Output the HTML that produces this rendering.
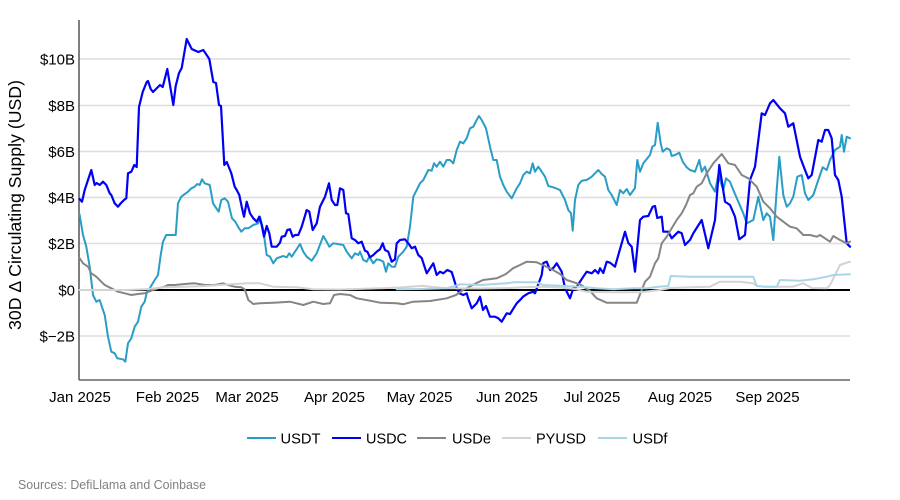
<!DOCTYPE html>
<html>
<head>
<meta charset="utf-8">
<style>
  html,body{margin:0;padding:0;background:#fff;}
  svg{display:block;}
  text{font-family:"Liberation Sans", Arial, sans-serif;}
</style>
</head>
<body>
<svg width="900" height="500" viewBox="0 0 900 500" xmlns="http://www.w3.org/2000/svg">
  <rect width="900" height="500" fill="#fff"/>
  <!-- gridlines -->
  <g stroke="#dedede" stroke-width="1.5">
    <line x1="79" y1="59" x2="850" y2="59"/>
    <line x1="79" y1="105.5" x2="850" y2="105.5"/>
    <line x1="79" y1="151.5" x2="850" y2="151.5"/>
    <line x1="79" y1="197.5" x2="850" y2="197.5"/>
    <line x1="79" y1="243.5" x2="850" y2="243.5"/>
    <line x1="79" y1="336" x2="850" y2="336"/>
  </g>
  <!-- zero line -->
  <line x1="79" y1="290" x2="850" y2="290" stroke="#000" stroke-width="2"/>
  <!-- axes -->
  <line x1="79" y1="20" x2="79" y2="380" stroke="#555" stroke-width="1.5"/>
  <line x1="79" y1="380" x2="850" y2="380" stroke="#666" stroke-width="1.5"/>

  <!-- y tick labels -->
  <g font-size="15" fill="#000" text-anchor="end">
    <text x="75" y="64.5">$10B</text>
    <text x="75" y="111">$8B</text>
    <text x="75" y="157">$6B</text>
    <text x="75" y="203">$4B</text>
    <text x="75" y="249">$2B</text>
    <text x="75" y="295.5">$0</text>
    <text x="75" y="341.5">$−2B</text>
  </g>
  <!-- y axis title -->
  <text transform="translate(21,205) rotate(-90)" text-anchor="middle" font-size="17.5" textLength="250" lengthAdjust="spacingAndGlyphs" fill="#000">30D Δ Circulating Supply (USD)</text>

  <!-- x tick labels -->
  <g font-size="15" fill="#000" text-anchor="middle">
    <text x="80" y="402">Jan 2025</text>
    <text x="167.5" y="402">Feb 2025</text>
    <text x="247" y="402">Mar 2025</text>
    <text x="334.5" y="402">Apr 2025</text>
    <text x="419.5" y="402">May 2025</text>
    <text x="507" y="402">Jun 2025</text>
    <text x="592" y="402">Jul 2025</text>
    <text x="680" y="402">Aug 2025</text>
    <text x="767.5" y="402">Sep 2025</text>
  </g>

  <!-- series -->
  <g fill="none" stroke-linejoin="round" stroke-linecap="round">
    <!-- USDT -->
    <polyline stroke="#2a9dc6" stroke-width="2" points="79.5,214 83,235 86.3,246.7 89.7,266.7 93,295 96.3,301.7 99.7,300 101.3,305 104.7,315 108,336.7 111.3,351.7 114.7,353.3 117.3,358.3 123,359.3 125.3,361.7 128,343.3 131.3,338.3 134.7,326.7 138,321.7 141.3,306.7 144.7,301.7 147,291.7 149.7,288.3 154.7,280 158,275 160.7,255 163,241.7 166.3,235 171.3,235 175.7,235 178,203.3 181.3,196.7 188,191.7 191.3,188.3 194.7,186.7 197.3,184 199.7,185 202,179.3 204.7,183.3 209.7,185 211.3,193.3 213,203.3 216.3,208.3 218.7,211.7 221.3,200 224.7,198.3 228,201.7 232,218.3 235.3,221.7 238,226.7 241.3,231.7 244.7,228.3 248.3,228.3 253.3,225 258.3,223.3 260,216.7 263.3,230 266.7,255 270,256.7 273.3,263.3 276.7,258.3 283.3,256 286.7,257.3 289.3,253.3 291.7,256.7 295,251.7 300,244 303.3,251.7 306.7,256.7 311.7,260.7 316.7,253.3 323.3,236 326.7,241.7 329.3,246.7 333.3,243.3 343.3,245 346.7,251.7 351.7,258.3 355,253.3 358.3,255 360,251.7 363.3,260 366.7,261.7 369.3,256.7 373.3,263.3 376.7,259.3 380,260 383.3,261.7 386,271.7 388.3,263.3 391.7,266.7 395,266.7 398.3,256.7 403.3,251.7 406.7,246.7 410,226.7 413.3,196.7 416.7,190 420,183.3 423.3,180 428.3,170 431.7,170.7 434,163.3 436.7,166.7 440,161.7 443.3,166.7 446.7,160 450,160 453.3,163.3 456.7,150 460,141.7 463.3,143.3 466.7,138.3 470,128.3 473.3,126.7 476.7,120 479,116 481.7,120 486,128.3 490,146.7 493.3,160 496.7,160 500,176.7 503.3,185 506.7,191.7 511.7,198.3 516.7,188.3 520,183.3 523.3,175 526.7,171.7 530,173.3 532.7,163.3 535,171.7 538.3,166.7 541.7,171.7 545,176.7 548.3,186 553.3,187.3 560,190 565,200 568.3,210 571,213.3 572.7,230.7 575,200 578.3,185 581.7,180.7 586.7,180 591.7,176.7 595,173.3 598.3,170 601.7,174 605,176.7 608.3,190 611.7,195 616.7,205 620,190 623.3,193.3 626.7,189 630,195 635,188 637.3,160 640,171.7 643.3,163.3 650,155 652.3,146.7 655,145 657.7,122.7 660.7,143.3 662.7,151.7 666.7,148.3 670,150 671.7,156 675,155 679.3,152.7 682.7,161.7 686.7,167.3 690,170 695,171.7 699.3,160 701.7,171.7 705,166.7 710,183.3 715,191.7 718.3,175 723.3,190 726,178.3 730,181.7 733.3,190 738.3,201.7 743.3,213.3 746.7,223.3 753.3,220 758.3,196.7 763.3,220 766.7,213.3 770,216.7 773.3,240 776.7,190 779.3,156.7 783.3,195 786.7,206.7 790,203.3 793.3,196.7 797.3,176.7 801.7,175 805,193.3 808.3,200 813.3,195 818.3,180 822.7,167.3 826.7,170 830,160 835,150 840,146.7 841.7,135 844,151.7 846.7,136.7 850,138.3"/>
    <!-- USDC -->
    <polyline stroke="#0000f5" stroke-width="2.2" points="79.5,199 82,201.7 84.7,190 88,180 91.3,170 94.7,185 96.7,183 99.7,185 103,181.7 106.3,185 109.7,193.3 111.3,195 114.7,203.3 118,206.7 120.7,203.3 124,200 126.3,198.3 128,173.3 131.3,171.7 134.3,165 136.7,167 139,107 142.7,92 146.7,82 148,81 150.7,89 153,92 160,85 162.7,87 167.3,69 173.3,105 175.7,86 179,73 181.7,68 186.7,39 191.7,49 198.3,52 203.3,50 209.3,59 213.3,82 216,83 219,105 221,106 224.3,165 226.7,162 230,170 231.3,173.3 234.7,186.7 236.7,190 239.3,195 241.7,206.7 244,216.7 246.7,201.7 250,213.3 253.3,218.3 256.7,221.7 259.3,216.7 261.7,225 264,236.7 266.7,226 269.3,233.3 271.7,246.7 276.7,246.7 280,242.7 281.7,236.7 285,236 287.3,230 290,229.3 292.7,236.7 295,235 298.3,235 301.7,226.7 306.7,210 309.3,211.7 312.7,230 316.7,223.3 320,206.7 325,196.7 329,183.3 331.7,200 335,205 337.3,205 340,188.3 343.3,190 346,213.3 348.3,214 351.7,238.3 355,240 358.3,243.3 361.7,241.7 365,250.7 367.3,251.7 370,257.3 373.3,255 376.7,251.7 380,249.3 382.7,243.3 385,250 388.3,251.7 391.7,261.7 395,259.3 396.7,243.3 400,240 405,239.3 408.3,243.3 411.7,248.3 415,246.7 418.3,255 421.7,258 426.7,273.3 430,268.3 433.3,263.3 436.7,275 440,271.7 443.3,273.3 447.3,270 451.7,272 456.7,288.3 459.3,293.3 463.3,295 466.7,293.3 468,298 471.7,308.3 476.7,303.3 480,296.7 483,310 486,306 490,316.7 495,316.7 498.3,318.3 501.7,321.7 506.7,313.3 510,314 516.7,303.3 521.7,298.3 523,296.7 528.3,293.3 533.3,291.7 535,293.3 538,285 541.7,275 543.3,263 546.7,261.7 550,270 553.3,268 556.7,263.3 561.7,271.7 565,288.3 570,298.3 573.3,288.3 576.7,286.7 580,281.7 583.3,276.7 586.7,271.7 591.7,273.3 595,270 598.3,273.3 600,268.3 603.3,273 606.7,261.7 610,262.7 615,266.7 625,231.7 628.3,243 631.7,246.7 635,271.7 640,220 643.3,216.7 648.3,216 652.7,206.7 655,206 657.3,218 661.7,216.7 663.3,231.7 668.3,231.7 671.7,238.3 678.3,231.7 681.7,233.3 685,245 690,240 693.3,233.3 701.7,220 708.3,248.3 715,220 719.3,165 725,201.7 730,205 735,216.7 739.3,239.3 745,235 750,180 755,166.7 761.7,113.3 765,115 770,103.3 773.3,100 780,108.3 785,113.3 788.3,126.7 793.3,123.3 800,156.7 805,170 808.3,178.3 811.7,175 818.3,140 821.7,141.7 825,130 828.3,130 831.7,138.3 835,175 838.3,180 841.7,196.7 846.7,243.3 850,246.7"/>
    <!-- USDe -->
    <polyline stroke="#858585" stroke-width="2" points="79.5,258 83,263.3 88,266.7 91.3,273.3 96.3,276.7 101.3,281.7 104.7,285 111.3,288.3 118,291.7 124.7,293.3 131.3,295 138,294 144.7,293.3 151.3,290.7 158,288.3 164.7,286.7 168,285 174.7,285 184.7,284 194.7,283.3 204.7,285 214.7,285 223,283.3 228,285 234.7,286.7 241.3,287.3 244.7,289.3 248.3,300 253.3,304 260,303.3 273.3,302.7 290,301.7 303.3,305 313.3,301.7 323.3,304 330,303.3 334,295 340,294 350,295 356.7,298.3 370,300.7 380,302.7 396.7,303.3 403,304.3 413,301.7 430,301 446.7,298.3 456,295 463,290 476.7,283 483,280 496.7,278.3 506,274 513,268.3 520,265 526.7,261.7 536.7,262.3 545,266 553,270 560,274 566.7,280 580,284.3 590,291 596.7,298.3 606.7,302.7 616.7,302.7 636.7,302.7 641.7,290 645,281.7 650,276.7 655,263.3 658.3,258.3 661.7,243.3 666.7,236.7 671.7,228.3 676.7,220 681.7,213.3 686,205 690,195 693.3,193.3 696.7,186.7 701.7,183.3 706.7,173.3 713.3,163.3 721.7,154 728.3,163.3 735,165 741.7,175 748.3,178.3 756.7,186.7 763.3,201.7 770,208.3 776.7,216.7 783.3,221.7 790,226.7 796.7,228.3 803.3,235 810,235 816.7,236.7 820,235 830,241.7 833.3,236 840,240 846.7,243.3 850,241.7"/>
    <!-- PYUSD -->
    <polyline stroke="#d3d3d3" stroke-width="2" points="79.5,290 110,290 126,290 145,289.3 165,287.3 185,286.7 205,286 220,285 235,284 248,283.3 260,283.3 273,286.7 297,287.3 313,289.3 340,289.5 380,288.3 400,287.5 410,286.7 423,285.7 430,286.7 446.7,288.3 480,288.5 510,288 523,287.3 540,286.7 560,287.5 575,289 586.7,291.7 613,292.3 640,292.3 660,290 670,288 700,287 710,286.7 720,281.7 740,281.7 753,283.3 757,286 767,286.7 793,286.7 803,283.3 812,288 827,288.3 830,285 835,275 840,265 846.7,262.7 850,261.7"/>
    <!-- USDf -->
    <polyline stroke="#a9d6e6" stroke-width="2" points="396.7,289.3 420,289 446.7,288.3 455,286 460,284.3 480,285 506.7,283.3 513.3,282.3 536.7,282.3 543.3,285 560,285.7 580,286.7 596.7,288.3 613.3,289.3 633,288.3 646.7,288.3 658.3,286.7 668.3,286 670.7,276 690,276.7 713.3,276.7 753.3,276.7 756.7,286 763.3,286.7 776.7,286.7 780,280 800,280.7 813.3,279.3 826.7,276.7 833.3,275 850,274.3"/>
  </g>

  <!-- legend -->
  <g stroke-width="2">
    <line x1="247" y1="438" x2="276" y2="438" stroke="#2a9dc6"/>
    <line x1="332" y1="438" x2="361" y2="438" stroke="#0000f5"/>
    <line x1="417" y1="438" x2="446" y2="438" stroke="#858585"/>
    <line x1="502" y1="438" x2="531" y2="438" stroke="#d3d3d3"/>
    <line x1="598" y1="438" x2="627" y2="438" stroke="#a9d6e6"/>
  </g>
  <g font-size="15" fill="#000">
    <text x="280.5" y="443.5" textLength="40" lengthAdjust="spacingAndGlyphs">USDT</text>
    <text x="366" y="443.5" textLength="41" lengthAdjust="spacingAndGlyphs">USDC</text>
    <text x="452" y="443.5" textLength="39" lengthAdjust="spacingAndGlyphs">USDe</text>
    <text x="536" y="443.5" textLength="50" lengthAdjust="spacingAndGlyphs">PYUSD</text>
    <text x="632.5" y="443.5" textLength="35" lengthAdjust="spacingAndGlyphs">USDf</text>
  </g>

  <!-- source -->
  <text x="18" y="489" font-size="12.5" fill="#808080" textLength="188" lengthAdjust="spacingAndGlyphs">Sources: DefiLlama and Coinbase</text>
</svg>
</body>
</html>
